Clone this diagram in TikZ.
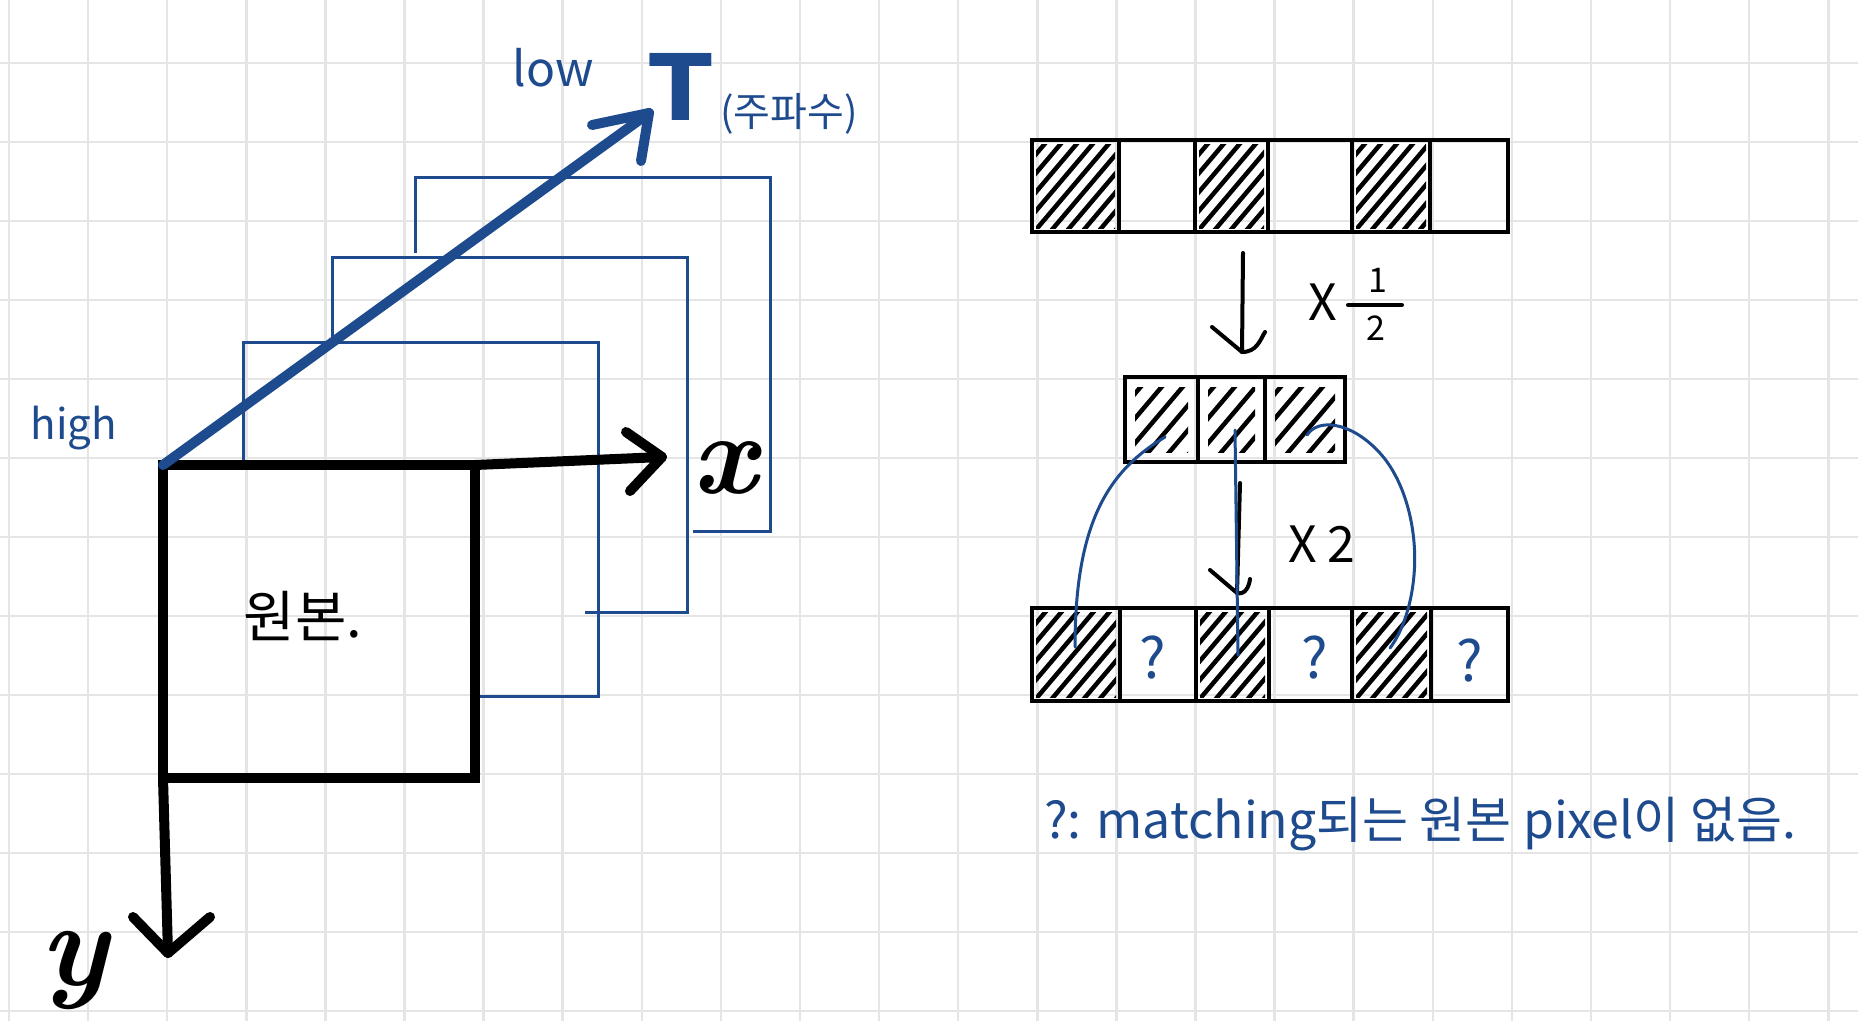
\documentclass[tikz,border=0pt]{standalone}
\usepackage{fontspec}
\newfontfamily\kr{Noto Sans CJK KR}
\newfontfamily\dvs{DejaVu Sans}
\usetikzlibrary{calc}
\definecolor{pen}{RGB}{30,74,142}
\definecolor{gridc}{RGB}{229,229,229}
\tikzset{
  hatchd/.style={path picture={
    \clip ($(path picture bounding box.south west)+(4,-4)$) rectangle ($(path picture bounding box.north east)+(-4,4)$);
    \foreach \d in {-110,-94,...,90}
      \draw[black, line width=4.5pt, line cap=round] ($(path picture bounding box.south west)+(\d,0)$) -- ++(100,-118);
  }},
  hatchs/.style={path picture={
    \clip ($(path picture bounding box.south west)+(10,-10)$) rectangle ($(path picture bounding box.north east)+(-10,10)$);
    \foreach \d in {-90,-69,...,70}
      \draw[black, line width=4.5pt, line cap=round] ($(path picture bounding box.south west)+(\d,0)$) -- ++(100,-118);
  }}
}
\begin{document}
\begin{tikzpicture}[x=1pt,y=-1pt,
  every node/.style={inner sep=0pt, outer sep=0pt},
  gridline/.style={gridc, line width=2.5pt},
  frame/.style={pen, line width=3pt, line join=miter},
  ink/.style={black, line width=10pt, line cap=round, line join=round},
  bluethick/.style={pen, line width=10pt, line cap=round, line join=round},
  pencil/.style={black, line width=4pt, line cap=round, line join=round},
  bluethin/.style={pen, line width=3pt, line cap=round},
  cell/.style={draw=black, line width=4pt, anchor=north west},
  trow/.style={cell, minimum height=92pt},
  mrow/.style={cell, minimum height=85pt},
  brow/.style={cell, minimum height=93pt},
  qm/.style={text=pen, font=\kr\fontsize{56}{58}\selectfont},
  bluetxt/.style={text=pen, font=\kr\fontsize{#1}{#1}\selectfont},
  blacktxt/.style={text=black, font=\kr\fontsize{#1}{#1}\selectfont}
]
\useasboundingbox (0,0) rectangle (1858,1021);
\fill[white] (0,0) rectangle (1858,1021);
% grid paper
\foreach \i in {0,...,23} \draw[gridline] ({9+79.1*\i},0) -- ({9+79.1*\i},1021);
\foreach \j in {0,...,12} \draw[gridline] (0,{63+79*\j}) -- (1858,{63+79*\j});

% ---------- left: frames ----------
\draw[frame] (243,465) -- (243,342) -- (598,342) -- (598,696) -- (475,696);
\draw[frame] (332,342) -- (332,257) -- (687,257) -- (687,612) -- (585,612);
\draw[frame] (415,253) -- (415,177) -- (770,177) -- (770,531) -- (693,531);

% original image square
\node[draw=black, line width=10pt, minimum width=312pt, minimum height=313pt, anchor=north west] (orig) at (163,465) {};
\node[blacktxt=56] (origlbl) at (303,616) {원본.};

% T axis (blue)
\coordinate (ttip) at (649,113);
\draw[bluethick] (orig.north west) -- (ttip);
\draw[bluethick] ($(ttip)+(-57,12)$) -- (ttip) -- ($(ttip)+(-8,48)$);
\node[text=pen, font=\dvs\bfseries\fontsize{92}{92}\selectfont] (tl) at (681,87) {T};
\node[bluetxt=40] (tsub) at (789,114) {(주파수)};
\node[bluetxt=48] (low) at (553,68) {low};
\node[bluetxt=42] (high) at (74,428) {high};

% x axis
\coordinate (xtip) at (662,457);
\draw[ink] (orig.north east) -- (xtip);
\draw[ink] ($(xtip)+(-36,-25)$) -- (xtip) -- ($(xtip)+(-32,34)$);
\node[font=\bfseries\itshape\fontsize{115}{115}\selectfont] (xl) at (725,468) {x};

% y axis
\coordinate (ytip) at (168,953);
\draw[ink] (orig.south west) -- (ytip);
\draw[ink] ($(ytip)+(-35,-36)$) -- (ytip) -- ($(ytip)+(42,-36)$);
\node[font=\bfseries\itshape\fontsize{120}{120}\selectfont] (yl) at (74,970) {y};

% ---------- right: pixel rows ----------
\node[trow, minimum width=87pt, hatchd] (t1) at (1032,140) {};
\node[trow, minimum width=76pt] (t2) at (1119,140) {};
\node[trow, minimum width=73pt, hatchd] (t3) at (1195,140) {};
\node[trow, minimum width=84pt] (t4) at (1268,140) {};
\node[trow, minimum width=78pt, hatchd] (t5) at (1352,140) {};
\node[trow, minimum width=78pt] (t6) at (1430,140) {};

\node[mrow, minimum width=73pt, hatchs] (m1) at (1125,377) {};
\node[mrow, minimum width=67pt, hatchs] (m2) at (1198,377) {};
\node[mrow, minimum width=80pt, hatchs] (m3) at (1265,377) {};

\node[brow, minimum width=88pt, hatchd] (b1) at (1032,608) {};
\node[brow, minimum width=76pt] (b2) at (1120,608) {};
\node[brow, minimum width=73pt, hatchd] (b3) at (1196,608) {};
\node[brow, minimum width=83pt] (b4) at (1269,608) {};
\node[brow, minimum width=79pt, hatchd] (b5) at (1352,608) {};
\node[brow, minimum width=77pt] (b6) at (1431,608) {};

\node[qm] (q2) at ($(b2.center)+(-5,3)$) {?};
\node[qm] (q4) at ($(b4.center)+(4,3)$) {?};
\node[qm] (q6) at ($(b6.center)+(0,6)$) {?};

% downscale arrow
\coordinate (d1s) at (1243,253);
\coordinate (d1e) at (1242,352);
\draw[pencil] (d1s) -- (d1e);
\draw[pencil] ($(d1e)+(-30,-25)$) -- (d1e) .. controls ($(d1e)+(15,0)$) and ($(d1e)+(18,-12)$) .. ($(d1e)+(23,-20)$);
\node[blacktxt=50] (xmul1) at (1323,302) {X};
\node[blacktxt=34] (fnum) at (1378,280) {1};
\coordinate (fbl) at (1348,305);
\coordinate (fbr) at (1402,305);
\draw[pencil] (fbl) -- (fbr);
\node[blacktxt=34] (fden) at (1376,328) {2};

% upscale arrow
\coordinate (d2s) at (1240,483);
\coordinate (d2e) at (1237,593);
\draw[pencil] (d2s) -- (d2e);
\draw[pencil] ($(d2e)+(-27,-23)$) -- (d2e) .. controls ($(d2e)+(8,2)$) and ($(d2e)+(12,-6)$) .. ($(d2e)+(13,-14)$);
\node[blacktxt=50] (xmul2) at (1322,544) {X\kern10pt2};

% matching curves
\draw[bluethin] ($(m1.center)+(3.5,17.5)$) .. controls (1110,470) and (1075,520) .. ($(b1.center)+(-1,-7.5)$);
\draw[bluethin] ($(m2.center)+(3.5,10.5)$) -- ($(b3.center)+(5.5,0.5)$);
\draw[bluethin] ($(m3.center)+(2,15.5)$) .. controls (1318,418) and (1350,422) .. (1377,450)
   .. controls (1405,478) and (1418,530) .. (1414,575)
   .. controls (1411,610) and (1400,635) .. ($(b5.center)+(-1.5,-6.5)$);

% note
\node[bluetxt=50, anchor=base west] (note) at (1044,838) {?: matching되는 원본 pixel이 없음.};
\end{tikzpicture}
\end{document}
